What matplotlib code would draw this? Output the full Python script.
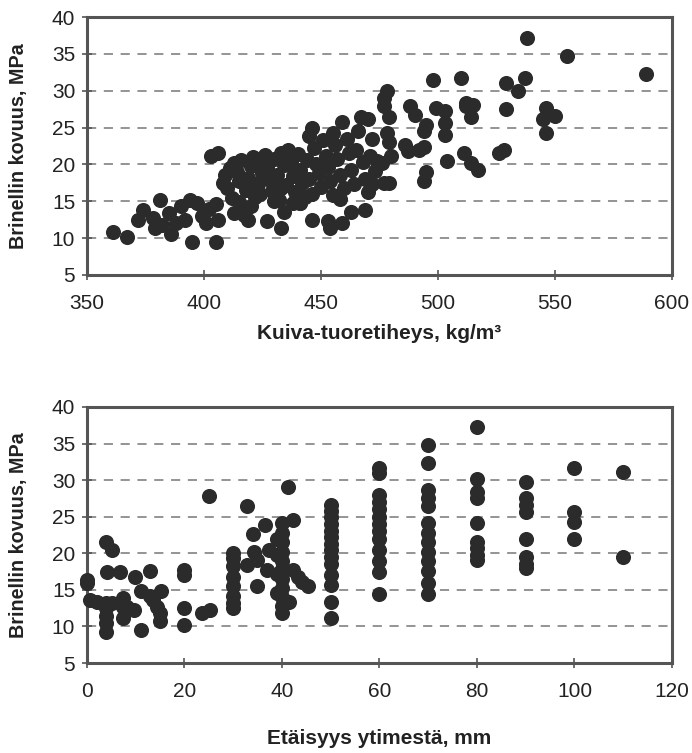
import numpy as np
import matplotlib.pyplot as plt

# top panel: dry-fresh density (kg/m3) vs Brinell hardness (MPa)
dens_x = [361, 367, 372, 374, 378, 379, 381, 382, 385, 386, 388, 390, 392, 394, 395,
          397, 399, 402, 401, 405, 406, 405, 403, 406, 413, 419, 417, 427, 433, 434,
          441, 446, 453, 454, 459, 463, 469,
          408, 410, 409, 411, 413, 412, 415, 414, 416, 415,
          418, 419, 420, 421, 422, 423, 424, 425, 420, 424,
          426, 427, 428, 429, 430, 431, 432, 433, 434, 435, 430, 433,
          436, 437, 438, 439, 440, 441, 442, 443, 444, 445, 438, 441,
          446, 445, 447, 448, 449, 450, 451, 452, 453, 454, 455, 455, 446,
          456, 457, 458, 459, 460, 461, 462, 463, 464, 465, 458,
          467, 466, 468, 469, 470, 471, 472, 473, 474, 476, 470, 472,
          478, 477, 477, 479, 488, 490, 499, 503, 503, 503, 495, 494, 512, 514,
          478, 479, 486, 487, 494, 492, 480, 504, 511, 495, 494, 477, 479,
          498, 510, 538, 555, 589, 529, 537, 534, 512, 515, 529, 546, 550, 545,
          546, 514, 517, 526, 528]
dens_y = [10.9, 10.2, 12.5, 13.8, 12.7, 11.4, 15.2, 11.8, 13.4, 10.5, 12.0, 14.3, 12.5, 15.2, 9.5,
          14.8, 13.0, 13.9, 12.0, 14.6, 12.5, 9.5, 21.1, 21.5, 13.4, 12.5, 13.2, 12.3, 11.4, 13.6,
          14.8, 12.5, 12.3, 11.4, 12.0, 13.6, 13.8,
          17.5, 16.8, 18.5, 19.5, 20.2, 15.5, 17.8, 19.0, 20.6, 14.9,
          16.5, 18.2, 19.8, 21.0, 15.6, 17.4, 20.3, 18.8, 14.4, 16.0,
          21.3, 19.5, 17.9, 16.4, 20.8, 18.6, 15.2, 21.5, 19.9, 17.2, 15.0, 16.8,
          22.0, 20.3, 18.4, 16.2, 21.4, 19.3, 17.5, 15.6, 20.6, 18.0, 14.8, 14.8,
          24.9, 23.8, 22.2, 20.0, 18.8, 16.9, 23.3, 21.1, 19.6, 17.8, 15.8, 24.3, 16.0,
          22.6, 20.7, 18.5, 25.8, 16.8, 23.5, 21.5, 19.2, 17.4, 22.0, 15.3,
          26.5, 24.6, 20.3, 18.0, 26.1, 21.1, 23.4, 19.1, 20.4, 20.2, 16.2, 17.3,
          29.9, 29.0, 27.9, 26.5, 27.9, 26.7, 27.6, 27.2, 25.6, 24.0, 25.4, 24.5, 27.9, 26.5,
          24.3, 23.1, 22.7, 21.8, 22.4, 22.0, 21.1, 20.4, 21.5, 19.0, 17.7, 17.5, 17.5,
          31.4, 31.7, 37.1, 34.7, 32.3, 31.1, 31.7, 30.0, 28.3, 28.0, 27.5, 27.6, 26.6, 26.1,
          24.2, 20.2, 19.3, 21.5, 21.9]

# bottom panel: distance from pith (mm) vs Brinell hardness (MPa)
dist_x = [0, 0, 0.7, 2, 3.8, 5.1, 4.1, 4, 4, 4, 4, 4, 5.1, 6.8, 7.3, 7.3, 7.3, 8.2, 9.6, 9.8,
          11, 11, 13, 13, 13.6, 14.3, 15, 15, 15.1,
          20, 20, 20, 20, 23.6, 25.2, 25,
          32.9, 30, 30, 30, 30, 30, 30, 30, 30, 34, 34.2, 32.9, 34.9, 34.9, 36.6, 37.3, 37,
          41.2, 42.2, 40, 40, 40, 40, 40, 40, 40, 40, 40, 40, 40, 39, 39, 39, 39,
          42.2, 43.2, 44.2, 45.3, 41.5,
          50, 50, 50, 50, 50, 50, 50, 50, 50, 50, 50, 50, 50, 50,
          60, 60, 60, 60, 60, 60, 60, 60, 60, 60, 60, 60, 60,
          70, 70, 70, 70, 70, 70, 70, 70, 70, 70, 70, 70, 70,
          80, 80, 80, 80, 80, 80, 80, 80, 80,
          90, 90, 90, 90, 90, 90, 90, 90,
          100, 100, 100, 100, 110, 110]
dist_y = [16.4, 16.0, 13.6, 13.4, 21.6, 20.5, 17.5, 13.2, 12.5, 11.4, 10.5, 9.3, 13.2, 17.5, 13.9, 12.7, 11.1, 12.7, 12.3, 16.8,
          9.5, 14.8, 17.6, 14.1, 13.6, 12.7, 11.8, 10.7, 14.8,
          17.7, 17.0, 12.5, 10.2, 11.8, 12.3, 27.8,
          26.5, 20.0, 19.3, 18.2, 16.8, 15.5, 14.1, 13.2, 12.5, 22.7, 20.2, 18.4, 19.1, 15.5, 23.9, 20.5, 17.7,
          29.0, 24.5, 24.1, 22.8, 21.5, 20.2, 19.0, 17.8, 16.5, 15.3, 14.0, 12.8, 11.8, 22.0, 19.8, 17.2, 14.6,
          17.7, 16.8, 16.1, 15.5, 13.4,
          26.6, 25.8, 24.9, 24.0, 23.1, 22.2, 21.3, 20.4, 19.5, 18.6, 17.0, 15.7, 13.4, 11.1,
          31.6, 31.0, 28.0, 27.0, 26.0, 25.0, 24.0, 23.0, 22.0, 20.5, 19.0, 17.5, 14.5,
          34.8, 32.3, 28.7, 27.5, 26.4, 24.1, 22.8, 21.5, 20.2, 18.9, 17.6, 16.0, 14.5,
          37.3, 30.1, 28.4, 27.5, 24.2, 21.6, 20.7, 19.8, 19.1,
          29.8, 27.6, 26.6, 25.7, 22.0, 19.5, 18.6, 18.0,
          31.7, 25.7, 24.3, 22.0, 31.1, 19.5]

fig = plt.figure(figsize=(6.92, 7.53), dpi=100)
plt.rcParams['font.family'] = ['Liberation Sans', 'DejaVu Sans']

ax1 = fig.add_axes([0.1257, 0.6348, 0.8454, 0.3426])
ax2 = fig.add_axes([0.1257, 0.1195, 0.8454, 0.3400])

def style(ax, xlim, xticks, xlabel, xlabelpad):
    ax.set_xlim(*xlim)
    ax.set_ylim(5, 40)
    ax.set_xticks(xticks)
    ax.set_yticks(range(5, 41, 5))
    for y in range(10, 40, 5):
        ax.axhline(y, color='#777777', lw=1.1, ls=(0, (6, 5)), zorder=1)
    for s in ax.spines.values():
        s.set_color('#555555')
        s.set_linewidth(2.2)
    ax.tick_params(direction='inout', length=7, width=1.2, color='#555555',
                   labelsize=15, labelcolor='#222222')
    ax.tick_params(axis='x', pad=10)
    ax.tick_params(axis='y', pad=5)
    ax.set_xlabel(xlabel, fontsize=15, fontweight='bold', color='#222222', labelpad=xlabelpad)
    ax.set_ylabel('Brinellin kovuus, MPa', fontsize=14.2, fontweight='bold', color='#222222')
    ax.yaxis.set_label_coords(-0.1, 0.5)

ax1.scatter(dens_x, dens_y, s=118, color='#2b2b2b', zorder=3, linewidths=0)
style(ax1, (350, 600), range(350, 601, 50), 'Kuiva-tuoretiheys, kg/m³', 8)

ax2.scatter(dist_x, dist_y, s=118, color='#2b2b2b', zorder=3, linewidths=0, clip_on=False)
style(ax2, (0, 120), range(0, 121, 20), 'Etäisyys ytimestä, mm', 20)

fig.savefig('out.png', dpi=100)
